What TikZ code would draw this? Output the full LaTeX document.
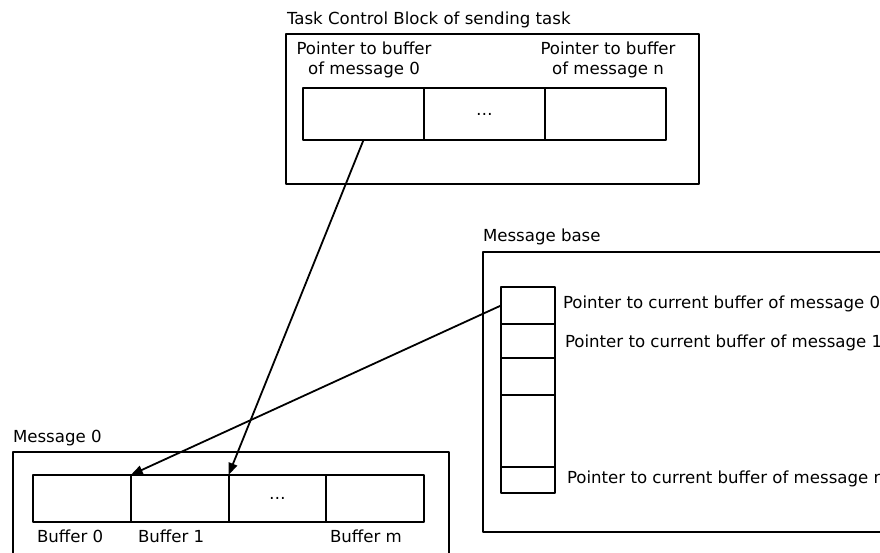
\documentclass[tikz,border=0pt]{standalone}
\usepackage{fontspec}
\setmainfont{DejaVu Sans}
\usetikzlibrary{arrows.meta,positioning}

\begin{document}
\begin{tikzpicture}[line cap=round,line join=round,>={Triangle[length=12pt,width=9pt]},x=1pt,y=-1pt,
		txt/.style={inner sep=0pt,outer sep=0pt,font=\fontsize{16.6}{20}\selectfont},
		cell/.style={draw,line width=2pt,inner sep=0pt,outer sep=0pt,font=\fontsize{16.6}{20}\selectfont},
		tcbcell/.style={cell,minimum width=121pt,minimum height=52pt},
		bufcell/.style={cell,minimum width=97.75pt,minimum height=47pt},
		ptrcell/.style={cell,minimum width=54pt}]
		\useasboundingbox (0,0) rectangle (880,553);
		\clip (0,0) rectangle (880,553);
		% frames
		\draw [line width=2pt] (286,34) rectangle (699,184);
		\draw [line width=2pt] (483,252) rectangle (900,532);
		\draw [line width=2pt] (13,452) rectangle (449,580);
		% task control block
		\node[txt,anchor=base west] (tcbname) at (287,25) {Task Control Block of sending task};
		\node[tcbcell] (p0) at (363.5,114) {};
		\node[tcbcell,right=0pt of p0] (pd) {…};
		\node[tcbcell,right=0pt of pd] (pn) {};
		\node[txt,anchor=base,align=center] (p0lbl) at (364,75) {Pointer to buffer\\of message 0};
		\node[txt,anchor=base,align=center] (pnlbl) at (608,75) {Pointer to buffer\\of message n};
		% message base
		\node[txt,anchor=base west] (mbname) at (483,242) {Message base};
		\node[ptrcell,minimum height=37pt] (mb0) at (528,305.5) {};
		\node[ptrcell,minimum height=34pt,below=0pt of mb0] (mb1) {};
		\node[ptrcell,minimum height=37pt,below=0pt of mb1] (mb2) {};
		\node[ptrcell,minimum height=72pt,below=0pt of mb2] (mb3) {};
		\node[ptrcell,minimum height=26pt,below=0pt of mb3] (mbn) {};
		\node[txt,anchor=base west] (mb0lbl) at (563,308) {Pointer to current buffer of message 0};
		\node[txt,anchor=base west] (mb1lbl) at (565,347) {Pointer to current buffer of message 1};
		\node[txt,anchor=base west] (mbnlbl) at (567,483) {Pointer to current buffer of message n};
		% message 0
		\node[txt,anchor=base west] (msgname) at (13,442) {Message 0};
		\node[bufcell] (b0) at (81.9,498.5) {};
		\node[bufcell,right=0pt of b0] (b1) {};
		\node[bufcell,right=0pt of b1] (bd) {…};
		\node[bufcell,right=0pt of bd] (bm) {};
		\node[txt,anchor=base west] (b0lbl) at (37,542) {Buffer 0};
		\node[txt,anchor=base west] (b1lbl) at (138,542) {Buffer 1};
		\node[txt,anchor=base west] (bmlbl) at (330,542) {Buffer m};
		% pointers
		\draw [line width=1.8pt,->] (p0.south) -- (b1.north east);
		\draw [line width=1.8pt,->] (mb0.west) -- (b0.north east);
	\end{tikzpicture}
\end{document}
